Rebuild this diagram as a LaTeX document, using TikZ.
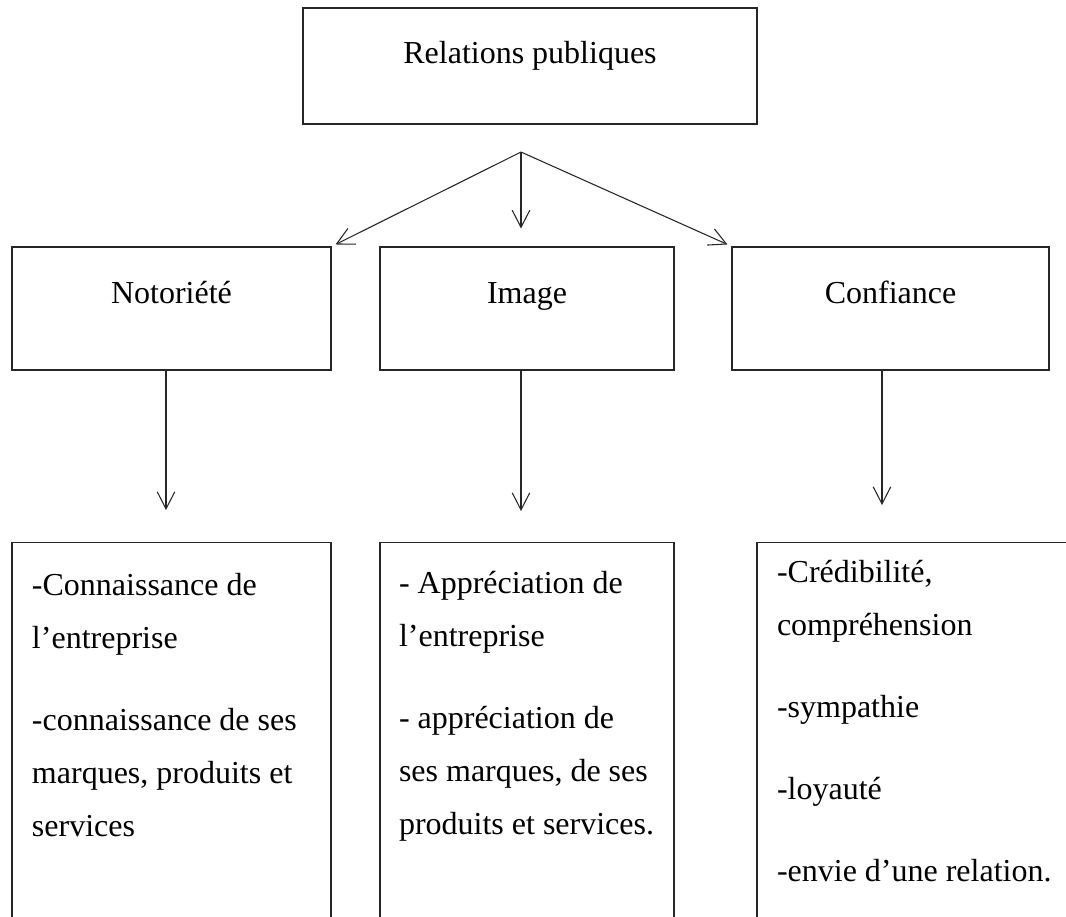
\documentclass[tikz,border=0pt]{standalone}
\usepackage{fontspec}
\setmainfont{Liberation Serif}
\usetikzlibrary{arrows.meta,positioning}
\newdimen\px \px=0.375pt

\begin{document}
\begin{tikzpicture}[
  x=0.375pt, y=-0.375pt,
  box/.style={draw=black!85, line width=0.4pt, inner sep=0pt, text height=9pt, font=\fontsize{12pt}{14pt}\selectfont},
  tallbox/.style={draw=black!85, line width=0.4pt, inner sep=0pt, anchor=north, minimum height=400\px},
  items/.style={anchor=north west, inner sep=0pt, align=left, font=\fontsize{12pt}{19.875pt}\selectfont},
  line/.style={-{Straight Barb[length=6.4pt,width=6.6pt]}, line width=0.4pt, draw=black!85}
]
\useasboundingbox (0,0) rectangle (1066,916);
\clip (0,0) rectangle (1066,916);

\node[box, minimum width=454\px, minimum height=116\px, text depth=11.25pt] (pr) at (530,66) {Relations publiques};
\node[box, minimum width=319\px, minimum height=123\px, text depth=13.125pt] (noto) at (171.5,308.5) {Notoriété};
\node[box, minimum width=294\px, minimum height=123\px, text depth=13.125pt] (img) at (527,308.5) {Image};
\node[box, minimum width=317\px, minimum height=123\px, text depth=13.125pt] (conf) at (890.5,308.5) {Confiance};

\node[tallbox, minimum width=319\px] (knowbox) at (171.5,542) {};
\node[tallbox, minimum width=294\px] (apprbox) at (527,542) {};
\node[tallbox, minimum width=330\px] (trustbox) at (922,542) {};

\node[items] (knowtext) at ([shift={(20,31)}]knowbox.north west) {-Connaissance de\\l’entreprise\\[10.9pt]-connaissance de ses\\marques, produits et\\services};
\node[items] (apprtext) at ([shift={(19,29)}]apprbox.north west) {- Appréciation de\\l’entreprise\\[10.9pt]- appréciation de\\ses marques, de ses\\produits et services.};
\node[items] (trusttext) at ([shift={(20,18)}]trustbox.north west) {-Crédibilité,\\compréhension\\[10.9pt]-sympathie\\[10.9pt]-loyauté\\[10.9pt]-envie d’une relation.};

\coordinate (fork) at (521,152);
\draw[line] (fork) -- ([shift={(4,-2)}]noto.north east);
\draw[line] (fork) -- ([shift={(-6,-18)}]img.north);
\draw[line] (fork) -- ([shift={(-4,-2)}]conf.north west);

\draw[line] ([shift={(-5.5,0)}]noto.south) -- ([shift={(-5.5,-32)}]knowbox.north);
\draw[line] ([shift={(-6,0)}]img.south) -- ([shift={(-6,-31)}]apprbox.north);
\draw[line] ([shift={(-8.5,0)}]conf.south) -- ([shift={(-40,-37)}]trustbox.north);
\end{tikzpicture}
\end{document}
